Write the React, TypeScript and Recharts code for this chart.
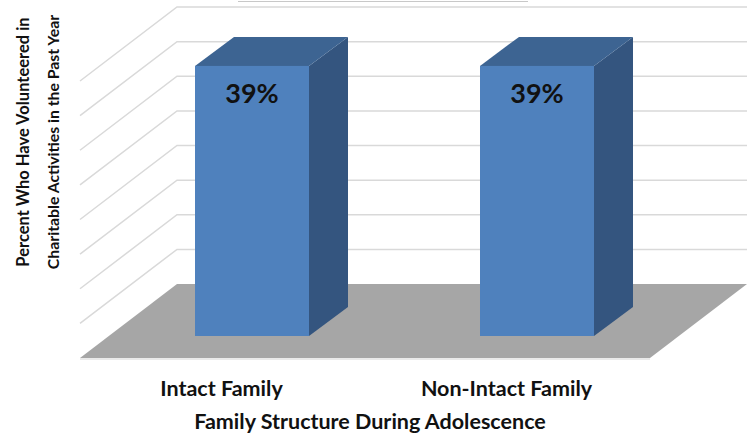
import { Bar, BarChart, CartesianGrid, LabelList, XAxis, YAxis } from "recharts";

const categories = ["Intact Family", "Non-Intact Family"];
const volunteered = [39, 39];
const yTicks = [0, 5, 10, 15, 20, 25, 30, 35, 40];

const data = categories.map((name, i) => ({ name, value: volunteered[i] }));

const FONT = "Lato, 'Open Sans', sans-serif";
const FRONT = "#4f81bd";
const TOP = "#3d6492";
const SIDE = "#34557f";
const FLOOR = "#a6a6a6";
const GRID = "#d9d9d9";

// oblique depth offsets (floor front edge, bar front face, bar back face)
const FLOOR_D = { dx: -97, dy: 74 };
const FRONT_D = { dx: -68, dy: 52 };
const BACK_D = { dx: -29, dy: 23 };

function GridLine(props: any) {
  const { x1, y1, x2, y, height } = props;
  const isFloor = y1 >= y + height - 0.5;
  if (isFloor) {
    const pts = [
      [x1, y1],
      [x2, y1],
      [x2 + FLOOR_D.dx, y1 + FLOOR_D.dy],
      [x1 + FLOOR_D.dx, y1 + FLOOR_D.dy],
    ]
      .map((p) => p.join(","))
      .join(" ");
    return (
      <g key={`floor-${y1}`}>
        <polygon points={pts} fill={FLOOR} />
        <line
          x1={x1 + FLOOR_D.dx}
          y1={y1 + FLOOR_D.dy + 1}
          x2={x2 + FLOOR_D.dx}
          y2={y1 + FLOOR_D.dy + 1}
          stroke="#e3e3e3"
          strokeWidth={1.5}
        />
      </g>
    );
  }
  return (
    <path
      key={`grid-${y1}`}
      d={`M${x1 + FLOOR_D.dx},${y1 + FLOOR_D.dy} L${x1},${y1} L${x2},${y1}`}
      fill="none"
      stroke={GRID}
      strokeWidth={1.5}
    />
  );
}

function Box3D(props: any) {
  const { x, y, width: w, height: h } = props;
  const fx = x + FRONT_D.dx;
  const fy = y + FRONT_D.dy;
  const bx = x + BACK_D.dx;
  const by = y + BACK_D.dy;
  const top = `${fx},${fy} ${fx + w},${fy} ${bx + w},${by} ${bx},${by}`;
  const side = `${fx + w},${fy} ${bx + w},${by} ${bx + w},${by + h} ${fx + w},${fy + h}`;
  return (
    <g>
      <polygon points={side} fill={SIDE} />
      <polygon points={top} fill={TOP} />
      <rect x={fx} y={fy} width={w} height={h} fill={FRONT} />
    </g>
  );
}

function ValueLabel(props: any) {
  const { x, y, width, value } = props;
  return (
    <text
      x={x + FRONT_D.dx + width / 2}
      y={y + FRONT_D.dy + 37}
      textAnchor="middle"
      fontFamily={FONT}
      fontWeight={700}
      fontSize={27}
      fill="#111"
    >
      {`${value}%`}
    </text>
  );
}

function CategoryTick(props: any) {
  const { x, y, payload } = props;
  return (
    <text
      x={x - 98}
      y={y + 104}
      textAnchor="middle"
      fontFamily={FONT}
      fontWeight={700}
      fontSize={21.5}
      fill="#111"
    >
      {payload.value}
    </text>
  );
}

function XTitle(props: any) {
  const { viewBox } = props;
  return (
    <text
      x={viewBox.x + viewBox.width / 2 - 92}
      y={viewBox.y + 145}
      textAnchor="middle"
      fontFamily={FONT}
      fontWeight={700}
      fontSize={21.5}
      fill="#111"
    >
      Family Structure During Adolescence
    </text>
  );
}

function YTitle() {
  const cy = 142;
  return (
    <svg
      width={80}
      height={445}
      style={{ position: "absolute", left: 0, top: 0 }}
    >
      <g fontFamily={FONT} fontWeight={700} fill="#111">
        <text x={23} y={cy} fontSize={16.5} textAnchor="middle" dominantBaseline="central" transform={`rotate(-90 23 ${cy})`}>
          Percent Who Have Volunteered in
        </text>
        <text x={52} y={cy} fontSize={15.8} textAnchor="middle" dominantBaseline="central" transform={`rotate(-90 52 ${cy})`}>
          Charitable Activities in the Past Year
        </text>
      </g>
    </svg>
  );
}

export default function App() {
  return (
    <div style={{ position: "relative", width: 751, height: 445, background: "#fff" }}>
      <style>{`body{margin:0}`}</style>
      <div
        style={{
          position: "absolute",
          left: 238,
          top: 1,
          width: 290,
          borderTop: "1.5px solid #c8c8c8",
        }}
      />
      <BarChart
        width={751}
        height={445}
        data={data}
        margin={{ top: 7, right: 4, left: 177, bottom: 131 }}
        barSize={114}
      >
        <CartesianGrid vertical={false} horizontal={GridLine} />
        <XAxis
          dataKey="name"
          height={30}
          axisLine={false}
          tickLine={false}
          tick={CategoryTick}
          label={{ content: XTitle }}
        />
        <YAxis hide width={0} domain={[0, 40]} ticks={yTicks} interval={0} />
        <Bar dataKey="value" shape={Box3D} isAnimationActive={false}>
          <LabelList dataKey="value" content={ValueLabel} />
        </Bar>
      </BarChart>
      <YTitle />
    </div>
  );
}
